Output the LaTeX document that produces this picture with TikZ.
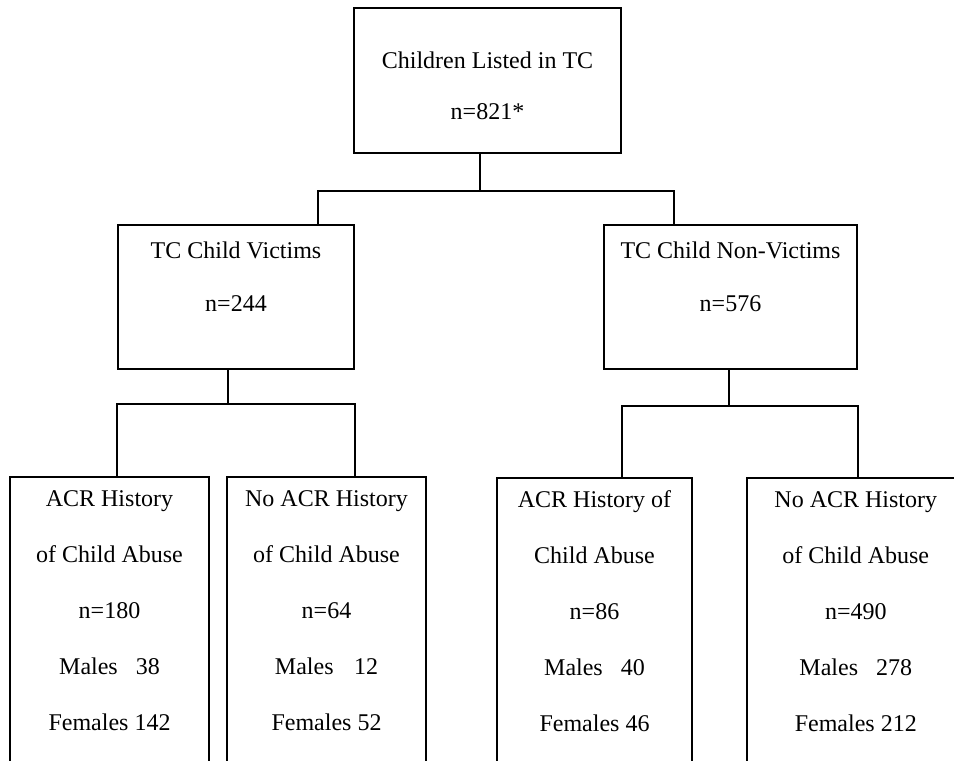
\documentclass[tikz,border=0pt]{standalone}
\usepackage{fontspec}
\setmainfont{Liberation Serif}
\usepackage{tikz}
\usetikzlibrary{positioning}

\begin{document}
\begin{tikzpicture}[line width=0.9pt, font=\fontsize{12pt}{14pt}\selectfont]
		\tikzstyle{box}=[draw=black,rectangle,inner sep=0pt]
		\tikzstyle{txt}=[inner sep=0pt,text height=9pt,text depth=3pt]
		\useasboundingbox (0,0) rectangle (477pt,-380.5pt);
		\clip (0,0) rectangle (477pt,-380.5pt);
		% boxes
		\node[box, minimum width=133.5pt, minimum height=72.5pt] (root) at (243.75pt,-40.25pt) {};
		\node[box, minimum width=118pt, minimum height=72pt] (vic) at (118pt,-148.5pt) {};
		\node[box, minimum width=126.5pt, minimum height=72pt] (nonvic) at (365.25pt,-148.5pt) {};
		\node[box, anchor=north, minimum width=99.5pt, minimum height=170pt] (vacr) at (54.75pt,-238pt) {};
		\node[box, anchor=north, minimum width=99.5pt, minimum height=170pt] (vnoacr) at (163.25pt,-238pt) {};
		\node[box, anchor=north, minimum width=97.5pt, minimum height=170pt] (nacr) at (297.25pt,-238.5pt) {};
		\node[box, anchor=north, minimum width=108.8pt, minimum height=170pt] (nnoacr) at (427.9pt,-238.5pt) {};
		% texts
		\node[txt, below=21pt of root.north] (root1) {Children Listed in TC};
		\node[txt, below=13pt of root1] (root2) {n=821*};
		\node[txt, below=7.5pt of vic.north] (vic1) {TC Child Victims};
		\node[txt, below=14pt of vic1] (vic2) {n=244};
		\node[txt, below=7.5pt of nonvic.north] (nonvic1) {TC Child Non-Victims};
		\node[txt, below=14pt of nonvic1] (nonvic2) {n=576};
		\node[txt, below=6pt of vacr.north] (vacr1) {ACR History};
		\node[txt, below=15pt of vacr1] (vacr2) {of Child Abuse};
		\node[txt, below=15pt of vacr2] (vacr3) {n=180};
		\node[txt, below=15pt of vacr3] (vacr4) {Males\hspace{0.75em}38};
		\node[txt, below=15pt of vacr4] (vacr5) {Females 142};
		\node[txt, below=6pt of vnoacr.north] (vnoacr1) {No ACR History};
		\node[txt, below=15pt of vnoacr1] (vnoacr2) {of Child Abuse};
		\node[txt, below=15pt of vnoacr2] (vnoacr3) {n=64};
		\node[txt, below=15pt of vnoacr3] (vnoacr4) {Males\hspace{0.85em}12};
		\node[txt, below=15pt of vnoacr4] (vnoacr5) {Females 52};
		\node[txt, below=6pt of nacr.north] (nacr1) {ACR History of};
		\node[txt, below=15pt of nacr1] (nacr2) {Child Abuse};
		\node[txt, below=15pt of nacr2] (nacr3) {n=86};
		\node[txt, below=15pt of nacr3] (nacr4) {Males\hspace{0.75em}40};
		\node[txt, below=15pt of nacr4] (nacr5) {Females 46};
		\node[txt, below=6pt of nnoacr.north] (nnoacr1) {No ACR History};
		\node[txt, below=15pt of nnoacr1] (nnoacr2) {of Child Abuse};
		\node[txt, below=15pt of nnoacr2] (nnoacr3) {n=490};
		\node[txt, below=15pt of nnoacr3] (nnoacr4) {Males\hspace{0.75em}278};
		\node[txt, below=15pt of nnoacr4] (nnoacr5) {Females 212};
		% connectors
		\draw ([xshift=-3.75pt]root.south) -- ++(0,-18.5pt) coordinate (j1);
		\draw ([xshift=41pt]vic.north) |- (j1) -| ([xshift=-28.25pt]nonvic.north);
		\draw ([xshift=-4pt]vic.south) -- ++(0,-17pt) coordinate (j2);
		\draw (vacr.north -| vic.west) |- (j2) -| (vnoacr.north -| vic.east);
		\draw ([xshift=-0.75pt]nonvic.south) -- ++(0,-18pt) coordinate (j3);
		\draw ([xshift=13.75pt]nacr.north) |- (j3) -| (nnoacr.north -| nonvic.east);
	\end{tikzpicture}
\end{document}
